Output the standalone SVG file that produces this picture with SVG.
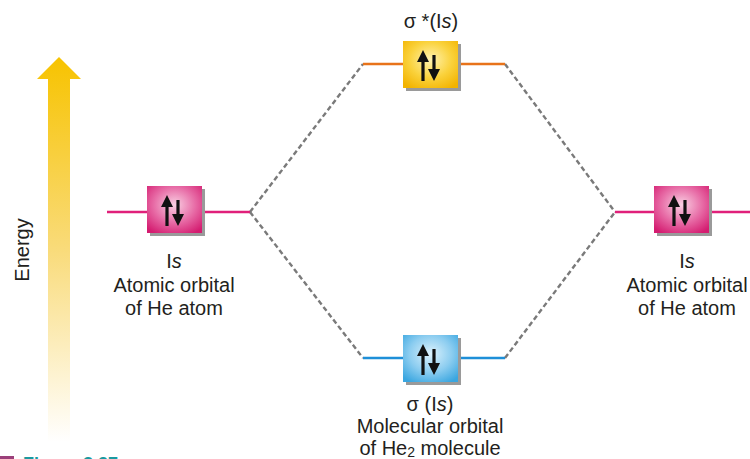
<svg xmlns="http://www.w3.org/2000/svg" width="750" height="459" viewBox="0 0 750 459">
<style>
  text { font-family: "Liberation Sans", Arial, sans-serif; font-size: 20px; fill: #231f20; }
  .lbl { text-anchor: middle; }
  .dash { stroke: #7a7a7a; stroke-width: 2.4; stroke-dasharray: 5 3; fill: none; }
  .shadow { fill: #9a9a9a; }
  .cap { font-weight: bold; font-size: 18px; fill: #1a9aa0; }
</style>
<defs>
  <linearGradient id="energyGrad" x1="0" y1="0" x2="0" y2="1">
    <stop offset="0" stop-color="#F7C300"/>
    <stop offset="0.5" stop-color="#F9DB7A"/>
    <stop offset="1" stop-color="#FFFFFF"/>
  </linearGradient>
  <radialGradient id="pinkGrad" cx="0.5" cy="0.4" r="0.7">
    <stop offset="0" stop-color="#F9D0E3"/>
    <stop offset="0.55" stop-color="#E76AA5"/>
    <stop offset="1" stop-color="#D41C70"/>
  </radialGradient>
  <radialGradient id="yellowGrad" cx="0.5" cy="0.4" r="0.7">
    <stop offset="0" stop-color="#FFF3B0"/>
    <stop offset="0.55" stop-color="#FAD23C"/>
    <stop offset="1" stop-color="#F2B300"/>
  </radialGradient>
  <radialGradient id="blueGrad" cx="0.5" cy="0.4" r="0.7">
    <stop offset="0" stop-color="#DDF2FC"/>
    <stop offset="0.55" stop-color="#8CCDF0"/>
    <stop offset="1" stop-color="#3AA6E0"/>
  </radialGradient>
  <g id="spins">
    <path d="M20 9 L26 21 L21.6 21 L21.6 40 L18.4 40 L18.4 21 L14 21 Z" fill="#111"/>
    <path d="M31 40 L25 28 L29.4 28 L29.4 14 L32.6 14 L32.6 28 L37 28 Z" fill="#111"/>
  </g>
</defs>

<!-- Energy axis -->
<g id="energy">
  <path d="M48 79 L37 79 L59 57 L81 79 L70 79 L70 442 L48 442 Z" fill="url(#energyGrad)"/>
  <text transform="translate(29,250) rotate(-90)" class="lbl">Energy</text>
</g>

<!-- connectors -->
<g id="connectors">
  <line x1="250" y1="212" x2="363" y2="64" class="dash"/>
  <line x1="250" y1="212" x2="363" y2="358" class="dash"/>
  <line x1="505" y1="64" x2="615" y2="212" class="dash"/>
  <line x1="505" y1="358" x2="615" y2="212" class="dash"/>
</g>

<!-- left atomic orbital -->
<g id="left-ao">
  <line x1="107" y1="212" x2="250" y2="212" stroke="#E0207A" stroke-width="2.4"/>
  <rect x="150" y="189" width="55" height="47" class="shadow"/>
  <rect x="147" y="186" width="55" height="47" fill="url(#pinkGrad)"/>
  <use href="#spins" x="147" y="186"/>
  <text x="174" y="268" class="lbl">I<tspan font-style="italic">s</tspan></text>
  <text x="174" y="292" class="lbl">Atomic orbital</text>
  <text x="174" y="315" class="lbl">of He atom</text>
</g>

<!-- antibonding MO -->
<g id="sigma-star">
  <line x1="363" y1="64" x2="505" y2="64" stroke="#E8731A" stroke-width="2.4"/>
  <rect x="406" y="44" width="55" height="47" class="shadow"/>
  <rect x="403" y="41" width="55" height="47" fill="url(#yellowGrad)"/>
  <use href="#spins" x="403" y="41"/>
  <text x="431" y="28" class="lbl">σ *(I<tspan font-style="italic">s</tspan>)</text>
</g>

<!-- bonding MO -->
<g id="sigma">
  <line x1="363" y1="358" x2="505" y2="358" stroke="#1E8FD8" stroke-width="2.4"/>
  <rect x="406" y="338" width="55" height="47" class="shadow"/>
  <rect x="403" y="335" width="55" height="47" fill="url(#blueGrad)"/>
  <use href="#spins" x="403" y="335"/>
  <text x="430" y="411" class="lbl">σ (I<tspan font-style="italic">s</tspan>)</text>
  <text x="430" y="433" class="lbl">Molecular orbital</text>
  <text x="430" y="455" class="lbl">of He<tspan font-size="14" dy="2">2</tspan><tspan dy="-2"> molecule</tspan></text>
</g>

<!-- right atomic orbital -->
<g id="right-ao">
  <line x1="615" y1="212" x2="750" y2="212" stroke="#E0207A" stroke-width="2.4"/>
  <rect x="657" y="189" width="55" height="47" class="shadow"/>
  <rect x="654" y="186" width="55" height="47" fill="url(#pinkGrad)"/>
  <use href="#spins" x="654" y="186"/>
  <text x="687" y="268" class="lbl">I<tspan font-style="italic">s</tspan></text>
  <text x="687" y="292" class="lbl">Atomic orbital</text>
  <text x="687" y="315" class="lbl">of He atom</text>
</g>

<!-- caption (cut off) -->
<g id="caption">
  <rect x="0" y="456" width="14" height="4" fill="#9B3F7A"/>
  <text x="23" y="470" class="cap">Figure 3.27</text>
</g>
</svg>
